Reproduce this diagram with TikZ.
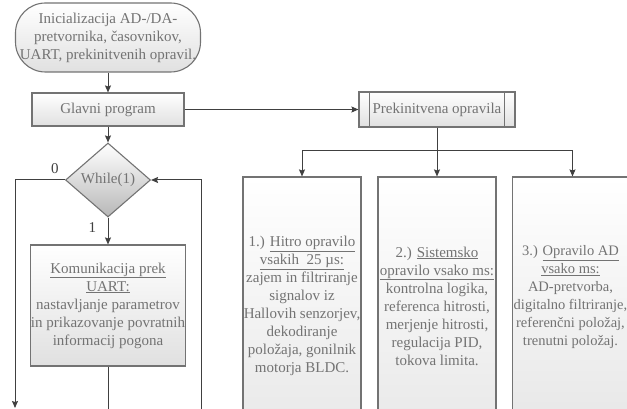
\documentclass[tikz,border=0pt]{standalone}
\usepackage{fontspec}
\setmainfont{Liberation Serif}
\usetikzlibrary{shapes.geometric, arrows.meta}
\tikzset{every node/.style={align=center, font=\fontsize{15}{18}\selectfont}}
\tikzset{line/.style={line width=1pt, black!75}}
\tikzset{arrowline/.style={line, -{Stealth[length=7pt, width=6pt, inset=1pt]}}}
\tikzset{boxline/.style={line width=1.1pt, black!55}}
\tikzset{box/.style={boxline, draw, top color=white, bottom color=black!12, inner sep=0pt}}
\tikzset{term/.style={box, rounded corners=30pt, minimum width=185pt, minimum height=69pt}}
\tikzset{cond/.style={box, diamond, bottom color=black!28, minimum width=85pt, minimum height=74pt}}
\tikzset{task/.style={box, bottom color=black!9, minimum width=118pt}}

\begin{document}
\begin{tikzpicture}[x=1pt, y=-1pt]
		% Frame
		\useasboundingbox (0,0) rectangle (627,409);
		\clip (0,0) rectangle (627,409);
		
		% Main loop
		\node[term] (init) at (108,37.5) {Inicializacija AD-/DA-\\pretvornika, časovnikov,\\UART, prekinitvenih opravil.};
		\node[box, minimum width=152pt, minimum height=33pt] (glavni) at (108,109.5) {Glavni program};
		\node[cond] (while) at (108,180) {While(1)};
		\node[box, minimum width=152pt, minimum height=121pt] (uart) at (108,305.5) {\underline{Komunikacija prek}\\\underline{UART:}\\nastavljanje parametrov\\in prikazovanje povratnih\\informacij pogona};
		
		% Interrupt tasks
		\node[box, minimum width=156pt, minimum height=35pt] (isr) at (437,109.5) {Prekinitvena opravila};
		%% Side bars
		\draw[boxline] ([xshift=11pt]isr.north west) -- ([xshift=11pt]isr.south west);
		\draw[boxline] ([xshift=-11pt]isr.north east) -- ([xshift=-11pt]isr.south east);
		%% Tasks
		\node[task, minimum height=258pt] (fast) at (302,306) {1.) \underline{Hitro opravilo}\\\underline{vsakih\ \ 25 µs:}\\zajem in filtriranje\\signalov iz\\Hallovih senzorjev,\\dekodiranje\\položaja, gonilnik\\motorja BLDC.};
		\node[task, minimum height=258pt] (sys) at (437,306) {2.) \underline{Sistemsko}\\\underline{opravilo vsako ms:}\\kontrolna logika,\\referenca hitrosti,\\merjenje hitrosti,\\regulacija PID,\\tokova limita.};
		\node[task, minimum width=116pt, minimum height=240pt, font=\fontsize{14.5}{18}\selectfont] (adc) at (570.5,297) {3.) \underline{Opravilo AD}\\\underline{vsako ms:}\\AD-pretvorba,\\digitalno filtriranje,\\referenčni položaj,\\trenutni položaj.};
		
		% Coordinates
		\coordinate (split) at (437,151);
		\coordinate (exit) at (15,408);
		\coordinate (uartend) at (108,420);
		\coordinate (back) at (201,420);
		
		% Connectors
		\draw[arrowline] (init) -- (glavni);
		\draw[arrowline] (glavni) -- (isr);
		\draw[arrowline] (glavni) -- (while);
		\draw[arrowline] (while) -- node[left=8pt, pos=.36] (one) {1} (uart);
		\draw[arrowline] (while.west) -| node[above=3pt, pos=.1] (zero) {0} (exit);
		\draw[line] (uart) -- (uartend);
		\draw[arrowline] (back) |- (while.east);
		%% Tasks
		\draw[arrowline] (isr) -- (sys);
		\draw[arrowline] (split) -| (fast);
		\draw[arrowline] (split) -| ([xshift=2pt]adc.north);
	\end{tikzpicture}
\end{document}
